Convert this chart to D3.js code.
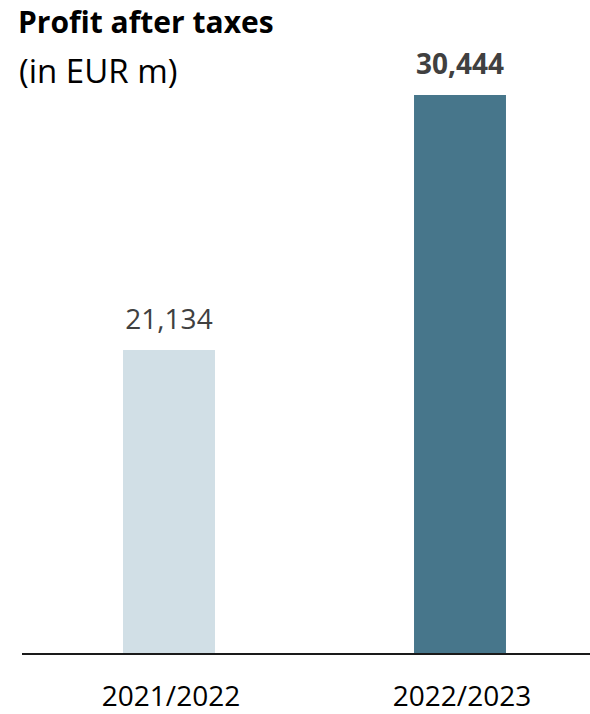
<!DOCTYPE html>
<html>
<head>
<meta charset="utf-8">
<script src="https://cdn.jsdelivr.net/npm/d3@7"></script>
<style>
  html, body { margin: 0; padding: 0; background: #fff; }
  svg { display: block; font-family: "Open Sans", Lato, sans-serif; }
</style>
</head>
<body>
<svg id="chart" width="590" height="714"></svg>
<script>
// Fiscal years and profit after taxes (EUR m)
const years = ["2021/2022", "2022/2023"];
const profits = [21134, 30444];
const barColors = ["#d1dfe6", "#47768b"];
const labelWeights = ["normal", "bold"];

const svg = d3.select("#chart");
const width = 590;

const x = d3.scaleBand()
  .domain(years)
  .range([23.5, 605.5])
  .paddingInner(0.684)
  .paddingOuter(0.342);

const y = d3.scaleLinear()
  .domain([10000, 30444])
  .range([655, 95]);

// Title block
svg.append("text")
  .attr("x", 18).attr("y", 33)
  .attr("font-size", 30).attr("font-weight", "bold").attr("fill", "#000")
  .text("Profit after taxes");
svg.append("text")
  .attr("x", 19).attr("y", 83)
  .attr("font-size", 33).attr("fill", "#000")
  .text("(in EUR m)");

// Bars
svg.selectAll("rect.bar")
  .data(years)
  .join("rect")
  .attr("class", "bar")
  .attr("x", d => x(d))
  .attr("width", x.bandwidth())
  .attr("y", (d, i) => y(profits[i]))
  .attr("height", (d, i) => y.range()[0] - y(profits[i]))
  .attr("fill", (d, i) => barColors[i]);

// Value labels
svg.selectAll("text.value")
  .data(years)
  .join("text")
  .attr("class", "value")
  .attr("x", d => x(d) + x.bandwidth() / 2)
  .attr("y", (d, i) => y(profits[i]) - 21)
  .attr("text-anchor", "middle")
  .attr("font-size", 28)
  .attr("font-weight", (d, i) => labelWeights[i])
  .attr("fill", "#404040")
  .text((d, i) => d3.format(",")(profits[i]));

// Baseline axis with category labels
const axis = svg.append("g")
  .attr("transform", "translate(0,654)")
  .call(d3.axisBottom(x).tickSize(0).tickPadding(0));
axis.select(".domain").remove();
axis.append("line")
  .attr("x1", 22).attr("x2", width)
  .attr("stroke", "#1a1a1a").attr("stroke-width", 2);
axis.selectAll(".tick text")
  .attr("dy", null)
  .attr("y", 52)
  .attr("dx", 2)
  .attr("font-family", "'Open Sans', Lato, sans-serif")
  .attr("font-size", 28)
  .attr("fill", "#000");
</script>
</body>
</html>
